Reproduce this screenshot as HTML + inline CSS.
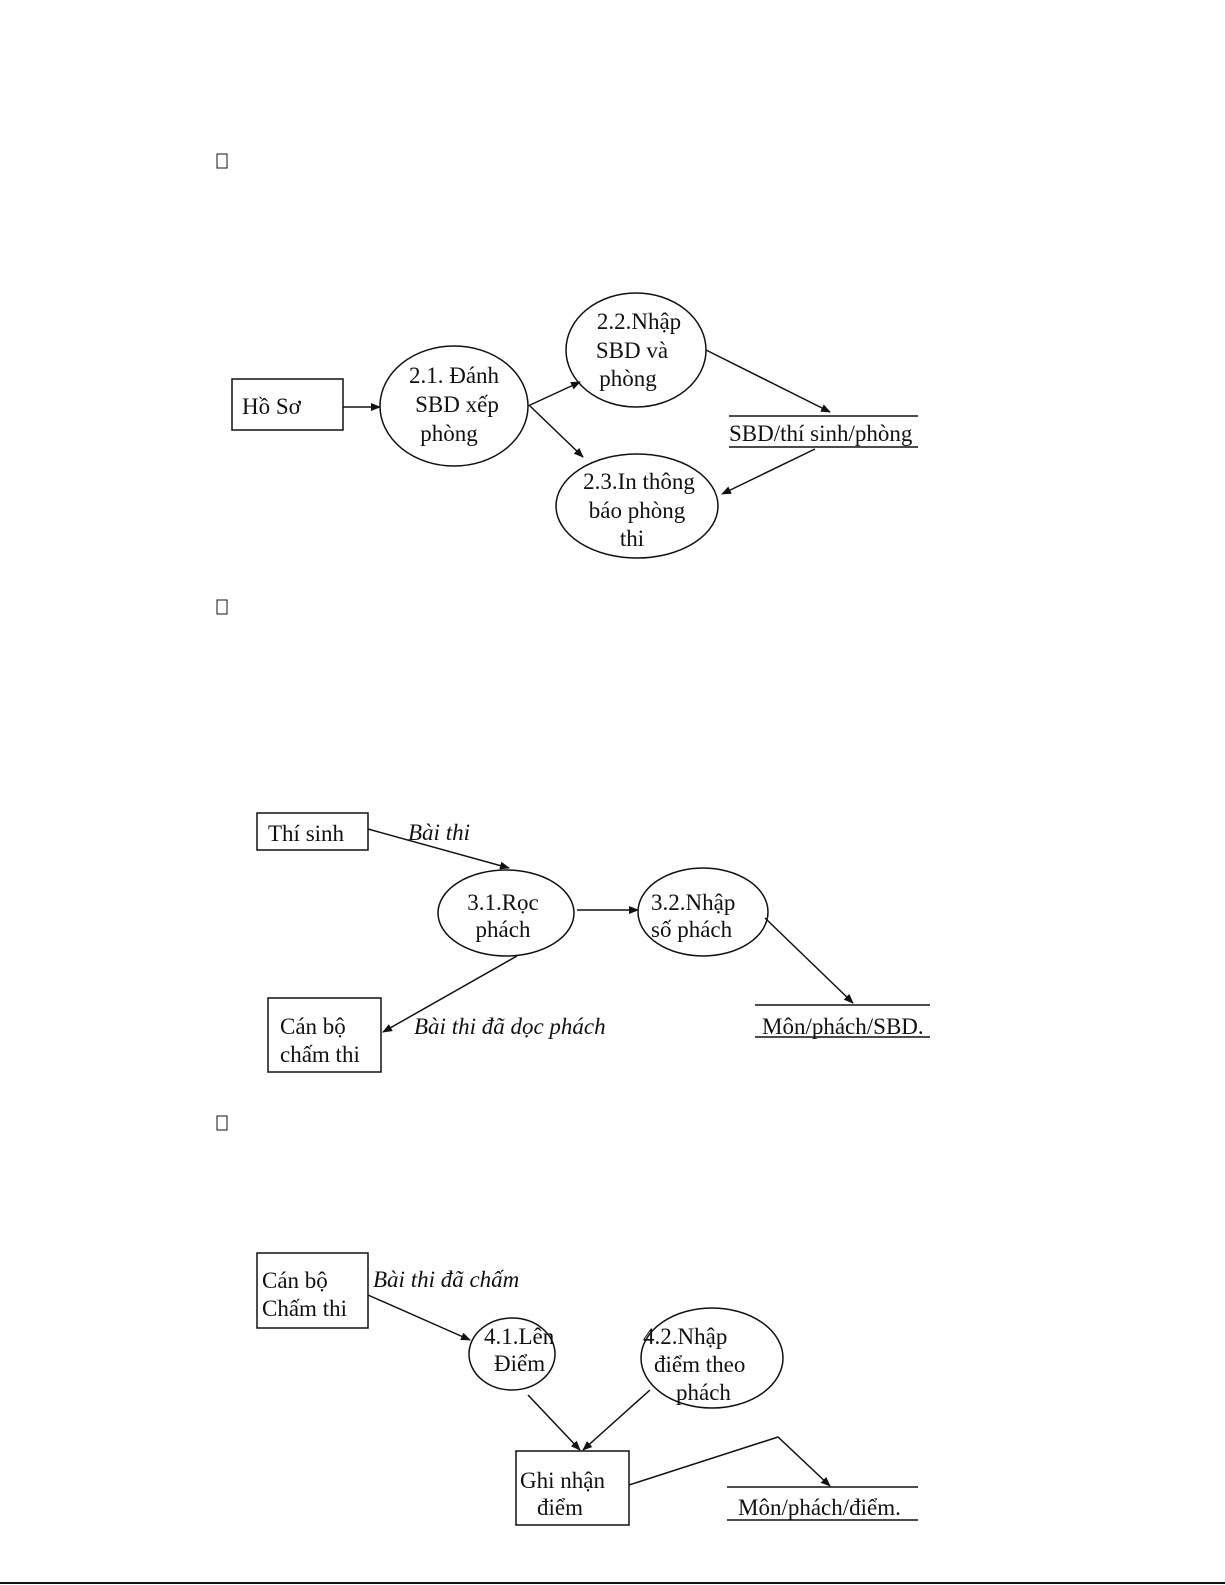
<!DOCTYPE html>
<html><head><meta charset="utf-8"><style>
html,body{margin:0;padding:0;background:#fff;}
svg{display:block;}
text{font-family:"Liberation Serif",serif;font-size:23px;fill:#111;}
.i{font-style:italic;}
</style></head><body>
<svg width="1225" height="1585" viewBox="0 0 1225 1585" xmlns="http://www.w3.org/2000/svg">
<defs><marker id="a" markerWidth="10" markerHeight="8" refX="9" refY="4" orient="auto" markerUnits="userSpaceOnUse"><path d="M0,0 L10,4 L0,8 z" fill="#111"/></marker></defs>
<g fill="none" stroke="#111" stroke-width="1.5">
<rect x="217" y="154" width="10" height="14" stroke-width="1"/>
<rect x="217" y="600" width="10" height="14" stroke-width="1"/>
<rect x="217" y="1116" width="10" height="14" stroke-width="1"/>
<rect x="232" y="379" width="111" height="51"/>
<line x1="343" y1="407" x2="380" y2="407" marker-end="url(#a)"/>
<ellipse cx="454" cy="406" rx="74" ry="60"/>
<ellipse cx="636" cy="350" rx="70" ry="57"/>
<ellipse cx="637" cy="506" rx="81" ry="52"/>
<line x1="528" y1="406" x2="580" y2="382" marker-end="url(#a)"/>
<line x1="530" y1="406" x2="583" y2="457" marker-end="url(#a)"/>
<line x1="706" y1="350" x2="830" y2="412" marker-end="url(#a)"/>
<line x1="729" y1="416" x2="918" y2="416"/>
<line x1="729" y1="447" x2="918" y2="447"/>
<line x1="815" y1="449" x2="722" y2="494" marker-end="url(#a)"/>
<rect x="257" y="813" width="111" height="37"/>
<line x1="368" y1="829" x2="509" y2="868" marker-end="url(#a)"/>
<ellipse cx="506" cy="913" rx="68" ry="43"/>
<line x1="577" y1="910" x2="638" y2="910" marker-end="url(#a)"/>
<ellipse cx="703" cy="912" rx="65" ry="44"/>
<line x1="765" y1="918" x2="853" y2="1003" marker-end="url(#a)"/>
<line x1="755" y1="1005" x2="930" y2="1005"/>
<line x1="755" y1="1037" x2="930" y2="1037"/>
<rect x="268" y="998" width="113" height="74"/>
<line x1="517" y1="956" x2="383" y2="1032" marker-end="url(#a)"/>
<rect x="257" y="1253" width="111" height="75"/>
<line x1="368" y1="1295" x2="470" y2="1340" marker-end="url(#a)"/>
<ellipse cx="512" cy="1354" rx="43" ry="36"/>
<ellipse cx="712" cy="1358" rx="71" ry="50"/>
<line x1="528" y1="1395" x2="580" y2="1450" marker-end="url(#a)"/>
<line x1="650" y1="1390" x2="583" y2="1450" marker-end="url(#a)"/>
<rect x="516" y="1451" width="113" height="74"/>
<polyline points="629,1485 778,1437 830,1486" marker-end="url(#a)"/>
<line x1="727" y1="1487" x2="918" y2="1487"/>
<line x1="727" y1="1520" x2="918" y2="1520"/>
<line x1="0" y1="1583" x2="1225" y2="1583" stroke-width="2"/>
</g>
<text x="242" y="414">Hồ Sơ</text>
<text x="454" y="383" text-anchor="middle">2.1. Đánh</text>
<text x="457" y="412" text-anchor="middle">SBD xếp</text>
<text x="449" y="441" text-anchor="middle">phòng</text>
<text x="639" y="329" text-anchor="middle">2.2.Nhập</text>
<text x="632" y="358" text-anchor="middle">SBD và</text>
<text x="628" y="386" text-anchor="middle">phòng</text>
<text x="639" y="489" text-anchor="middle">2.3.In thông</text>
<text x="637" y="518" text-anchor="middle">báo phòng</text>
<text x="632" y="546" text-anchor="middle">thi</text>
<text x="729" y="441">SBD/thí sinh/phòng</text>
<text x="268" y="841">Thí sinh</text>
<text x="408" y="840" class="i">Bài thi</text>
<text x="503" y="910" text-anchor="middle">3.1.Rọc</text>
<text x="503" y="937" text-anchor="middle">phách</text>
<text x="651" y="910">3.2.Nhập</text>
<text x="651" y="937">số phách</text>
<text x="762" y="1034">Môn/phách/SBD.</text>
<text x="280" y="1034">Cán bộ</text>
<text x="280" y="1062">chấm thi</text>
<text x="414" y="1034" class="i">Bài thi đã dọc phách</text>
<text x="262" y="1288">Cán bộ</text>
<text x="262" y="1316">Chấm thi</text>
<text x="373" y="1287" class="i">Bài thi đã chấm</text>
<text x="484" y="1344">4.1.Lên</text>
<text x="494" y="1371">Điểm</text>
<text x="643" y="1344">4.2.Nhập</text>
<text x="654" y="1372">điểm theo</text>
<text x="676" y="1400">phách</text>
<text x="520" y="1488">Ghi nhận</text>
<text x="537" y="1515">điểm</text>
<text x="738" y="1515">Môn/phách/điểm.</text>
</svg>
</body></html>
